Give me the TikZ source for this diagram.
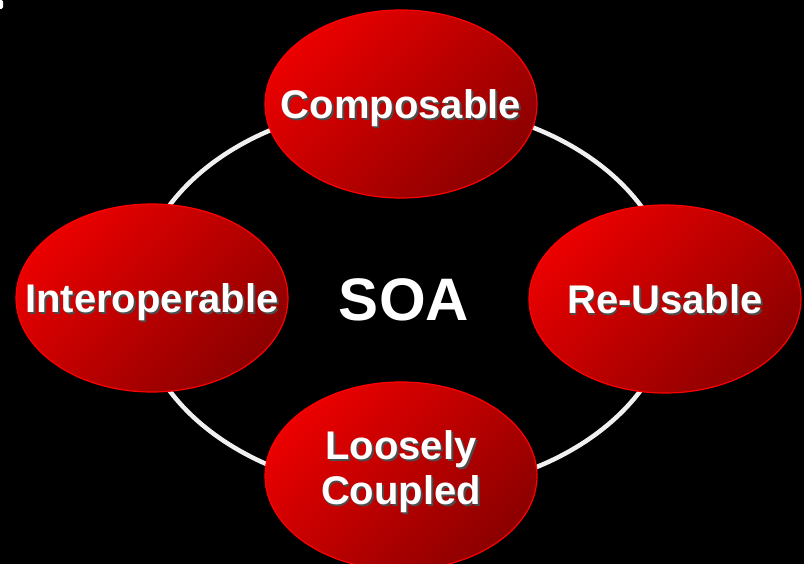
\documentclass[tikz,border=0pt]{standalone}
\usepackage{fontspec}
\setmainfont{Liberation Sans}
\usetikzlibrary{shapes.geometric}

\tikzset{
  ball/.style={ellipse, minimum width=272pt, minimum height=188pt, inner sep=0pt,
    draw=red, line width=1.2pt,
    top color=red!92!black, bottom color=red!55!black, shading angle=45,
    text=white, text depth=0pt, align=center,
    font=\fontsize{40}{45}\selectfont\bfseries},
  ring/.style={draw=white!94!black, line width=4.5pt},
  hub/.style={text=white, font=\fontsize{60}{66}\selectfont\bfseries},
}
% zero width, so the ellipse keeps its own size
\newcommand{\shadowed}[1]{\makebox[0pt]{\makebox[0pt][l]{\kern1.8pt\raisebox{-1.8pt}{\color{black!70}#1}}#1}}

\begin{document}
\begin{tikzpicture}[x=1pt, y=-1pt]

\useasboundingbox (0,0) rectangle (804,564) ;
\fill [black] (0,0) rectangle (804,564) ;
\fill [white, rounded corners=1.5pt] (-3,0) rectangle (3,9) ;

% ring behind the balls
\coordinate (mid) at (405,298) ;
\draw [ring] (mid) ellipse [x radius=268pt, y radius=194pt] ;

% the four balls
\node [ball] (comp) at (401,104) {\shadowed{Composable}} ;
\node [ball] (inter) at (152,298) {\shadowed{Interoperable}} ;
\node [ball] (reuse) at (665,299) {\shadowed{Re-Usable}} ;
\node [ball, text depth=17pt] (loose) at (401,476) {\shadowed{Loosely}\\\shadowed{Coupled}} ;

\node [hub] (soa) at (404,300) {SOA} ;

\end{tikzpicture}
\end{document}
